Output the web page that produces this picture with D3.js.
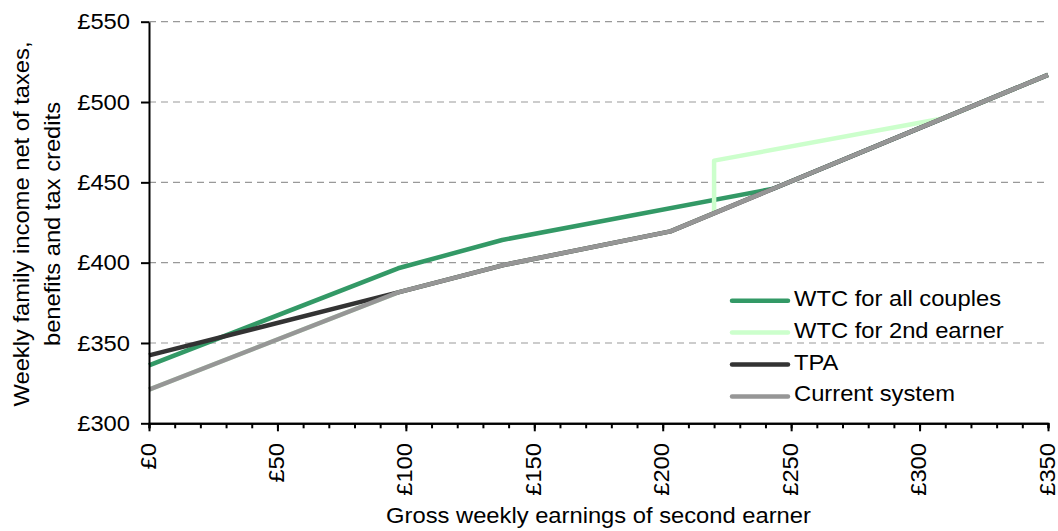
<!DOCTYPE html>
<html>
<head>
<meta charset="utf-8">
<script src="https://cdn.jsdelivr.net/npm/d3@7"></script>
<style>
    body { margin: 0; background: #ffffff; }
    text { font-family: "Liberation Sans", Arial, sans-serif; fill: #000000; }
</style>
</head>
<body>
<svg id="chart" width="1058" height="531"></svg>
<script>
// data (gross weekly earnings -> weekly family income)
const currentX = [0, 97, 138, 203, 350];
const currentY = [321, 381.5, 398.5, 419.5, 516.9];
const wtcAllX = [0, 97, 137.5, 243, 350];
const wtcAllY = [336, 396.5, 414.1, 446.0, 516.9];
const wtc2ndX = [0, 97, 138, 203, 220, 220, 309, 350];
const wtc2ndY = [321, 381.5, 398.5, 419.5, 430.8, 463.5, 489.7, 516.9];
const tpaX = [0, 97, 138, 203, 350];
const tpaY = [342.3, 381.5, 398.5, 419.5, 516.9];

const seriesNames = ["WTC for all couples", "WTC for 2nd earner", "TPA", "Current system"];
const xTicks = [0, 50, 100, 150, 200, 250, 300, 350];
const yTicks = [300, 350, 400, 450, 500, 550];
const xTitle = "Gross weekly earnings of second earner";
const yTitle = ["Weekly family income net of taxes,", "benefits and tax credits"];

// barvy serii
const colors = ["#339966", "#ccffcc", "#333333", "#969696"];
const series = [
    {name: seriesNames[0], xs: wtcAllX, ys: wtcAllY, color: colors[0]},
    {name: seriesNames[1], xs: wtc2ndX, ys: wtc2ndY, color: colors[1]},
    {name: seriesNames[2], xs: tpaX, ys: tpaY, color: colors[2]},
    {name: seriesNames[3], xs: currentX, ys: currentY, color: colors[3]}
];

const FS = 22;     // velikost pisma
const SX = 1.08;   // text v originale je o neco sirsi nez Arial
const svg = d3.select("#chart");

const x = d3.scaleLinear().domain([0, 350]).range([149, 1048]);
const y = d3.scaleLinear().domain([300, 550]).range([423.3, 21.7]);

// pomocna funkce pro roztazeny text
function label(g, txt, px, py, rot, anchor, dy) {
    return g.append("text")
        .attr("transform", `translate(${px},${py}) rotate(${rot}) scale(${SX},1)`)
        .attr("text-anchor", anchor)
        .attr("dy", dy)
        .style("font-size", FS + "px")
        .text(txt);
}

// mrizka
svg.append("g")
    .selectAll("line")
    .data(yTicks.filter(v => v > 300))
    .join("line")
    .attr("x1", x(0)).attr("x2", x(350))
    .attr("y1", d => y(d)).attr("y2", d => y(d))
    .attr("stroke", "#999999")
    .attr("stroke-width", 1.2)
    .attr("stroke-dasharray", "7,5");

// cary
const line = d3.line()
    .x(d => x(d[0]))
    .y(d => y(d[1]));

svg.append("g")
    .selectAll("path")
    .data(series)
    .join("path")
    .attr("d", s => line(s.xs.map((v, i) => [v, s.ys[i]])))
    .attr("fill", "none")
    .attr("stroke", s => s.color)
    .attr("stroke-width", 4.5)
    .attr("stroke-linejoin", "round");

// osy
const xAxisMinor = d3.axisBottom(x)
    .tickValues(d3.range(0, 351, 10))
    .tickSize(5)
    .tickFormat("");
const xAxisMajor = d3.axisBottom(x)
    .tickValues(xTicks)
    .tickSize(8)
    .tickSizeOuter(0)
    .tickFormat("");
const yAxis = d3.axisLeft(y)
    .tickValues(yTicks)
    .tickSize(8)
    .tickSizeOuter(0)
    .tickFormat("");

[xAxisMinor, xAxisMajor].forEach(ax => {
    svg.append("g")
        .attr("transform", `translate(0,${y(300)})`)
        .call(ax)
        .call(g => g.selectAll("path, line").attr("stroke", "#000").attr("stroke-width", 2));
});
svg.append("g")
    .attr("transform", `translate(${x(0)},0)`)
    .call(yAxis)
    .call(g => g.selectAll("path, line").attr("stroke", "#000").attr("stroke-width", 2));

// popisky os
const labels = svg.append("g");
yTicks.forEach(v => label(labels, "£" + v, 130, y(v), 0, "end", "0.35em"));
xTicks.forEach(v => label(labels, "£" + v, x(v), 443, -90, "end", "0.3em"));

label(labels, xTitle, (x(0) + x(350)) / 2, 523, 0, "middle", 0);
label(labels, yTitle[0], 29, 224, -90, "middle", 0);
label(labels, yTitle[1], 60, 224, -90, "middle", 0);

// legenda
const legend = svg.append("g");
series.forEach((s, i) => {
    const ly = 300.7 + i * 31.9;
    legend.append("line")
        .attr("x1", 732).attr("x2", 788)
        .attr("y1", ly).attr("y2", ly)
        .attr("stroke", s.color)
        .attr("stroke-width", 4.5)
        .attr("stroke-linecap", "round");
    label(legend, s.name, 794, ly + 5, 0, "start", 0);
});
</script>
</body>
</html>
